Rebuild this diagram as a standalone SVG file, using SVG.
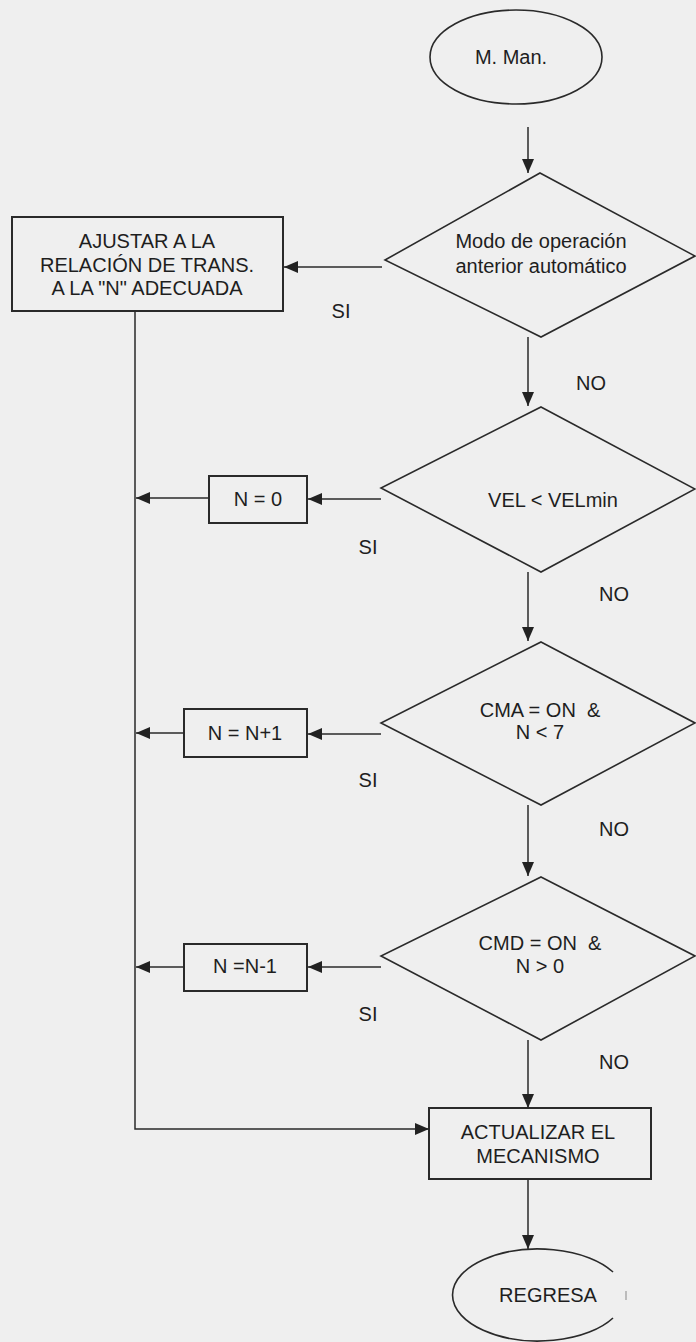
<svg xmlns="http://www.w3.org/2000/svg" width="696" height="1342" viewBox="0 0 696 1342">
<style>
.bg{fill:#efefef}
.shape{fill:none;stroke:#2a2a2a;stroke-width:1.6}
.box{fill:none;stroke:#2a2a2a;stroke-width:2}
.line{fill:none;stroke:#2a2a2a;stroke-width:1.5}
.t{font-family:"Liberation Sans",Arial,Helvetica,sans-serif;font-size:20px;fill:#1e1e1e;text-anchor:middle;white-space:pre}
</style>
<defs>
<marker id="ah" viewBox="0 0 14 12" refX="14" refY="6" markerWidth="14" markerHeight="12" orient="auto" markerUnits="userSpaceOnUse">
<path d="M0,0 L14,6 L0,12 z" fill="#222"/>
</marker>
</defs>
<rect class="bg" x="0" y="0" width="696" height="1342"/>

<g id="start">
<ellipse class="shape" cx="516" cy="57" rx="86" ry="47"/>
<text class="t" x="511" y="64">M. Man.</text>
</g>

<g id="dec1">
<polygon class="shape" points="540,173 695,256 541,337 385,260"/>
<text class="t" x="541" y="248">Modo de operación</text>
<text class="t" x="541" y="273">anterior automático</text>
</g>

<g id="ajustar">
<rect class="box" x="12" y="217" width="271" height="94"/>
<text class="t" x="147" y="248">AJUSTAR A LA</text>
<text class="t" x="147" y="272">RELACIÓN DE TRANS.</text>
<text class="t" x="147" y="295">A LA "N" ADECUADA</text>
</g>

<g id="dec2">
<polygon class="shape" points="541,407 695,489 541,572 381,488"/>
<text class="t" x="553" y="507">VEL &lt; VELmin</text>
</g>

<g id="n0">
<rect class="box" x="209" y="476" width="98" height="47"/>
<text class="t" x="258" y="506">N = 0</text>
</g>

<g id="dec3">
<polygon class="shape" points="541,642 695,723 541,805 381,723"/>
<text class="t" x="540" y="717">CMA = ON  &amp;</text>
<text class="t" x="540" y="739">N &lt; 7</text>
</g>

<g id="ninc">
<rect class="box" x="184" y="709" width="123" height="48"/>
<text class="t" x="245" y="740">N = N+1</text>
</g>

<g id="dec4">
<polygon class="shape" points="541,877 695,956 541,1040 381,956"/>
<text class="t" x="540" y="950">CMD = ON  &amp;</text>
<text class="t" x="540" y="973">N &gt; 0</text>
</g>

<g id="ndec">
<rect class="box" x="184" y="944" width="123" height="47"/>
<text class="t" x="245" y="973">N =N-1</text>
</g>

<g id="actualizar">
<rect class="box" x="429" y="1108" width="222" height="71"/>
<text class="t" x="538" y="1139">ACTUALIZAR EL</text>
<text class="t" x="538" y="1163">MECANISMO</text>
</g>

<g id="end">
<path class="shape" d="M613,1272 A86,46 0 1 0 613,1318"/>
<line x1="626" y1="1291" x2="626" y2="1300" stroke="#999" stroke-width="1.2"/>
<text class="t" x="548" y="1302">REGRESA</text>
</g>

<g id="connectors">
<line class="line" x1="528" y1="127" x2="528" y2="173" marker-end="url(#ah)"/>
<line class="line" x1="382" y1="267" x2="284" y2="267" marker-end="url(#ah)" stroke="#555"/>
<line class="line" x1="528" y1="337" x2="528" y2="406" marker-end="url(#ah)"/>
<line class="line" x1="381" y1="499" x2="308" y2="499" marker-end="url(#ah)"/>
<line class="line" x1="209" y1="498" x2="136" y2="498" marker-end="url(#ah)"/>
<line class="line" x1="528" y1="572" x2="528" y2="641" marker-end="url(#ah)"/>
<line class="line" x1="381" y1="734" x2="308" y2="734" marker-end="url(#ah)"/>
<line class="line" x1="184" y1="733" x2="136" y2="733" marker-end="url(#ah)"/>
<line class="line" x1="528" y1="805" x2="528" y2="876" marker-end="url(#ah)"/>
<line class="line" x1="381" y1="967" x2="308" y2="967" marker-end="url(#ah)"/>
<line class="line" x1="184" y1="967" x2="136" y2="967" marker-end="url(#ah)"/>
<line class="line" x1="528" y1="1040" x2="528" y2="1108" marker-end="url(#ah)"/>
<polyline class="line" points="135,311 135,1129 429,1129" marker-end="url(#ah)"/>
<line class="line" x1="528" y1="1179" x2="528" y2="1249" marker-end="url(#ah)"/>
<text class="t" x="341" y="318">SI</text>
<text class="t" x="368" y="554">SI</text>
<text class="t" x="368" y="787">SI</text>
<text class="t" x="368" y="1021">SI</text>
<text class="t" x="591" y="390">NO</text>
<text class="t" x="614" y="601">NO</text>
<text class="t" x="614" y="836">NO</text>
<text class="t" x="614" y="1069">NO</text>
</g>
</svg>
